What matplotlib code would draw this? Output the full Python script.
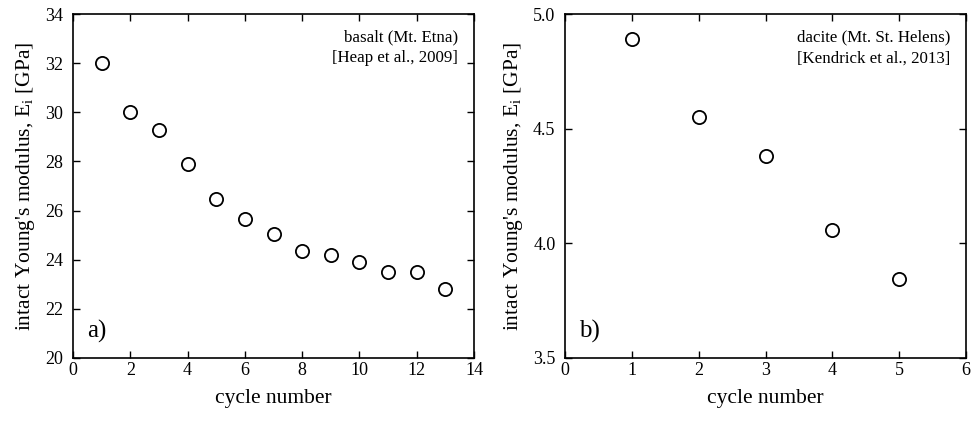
import matplotlib.pyplot as plt

# panel a) basalt, Mt. Etna
cycles_a = [1, 2, 3, 4, 5, 6, 7, 8, 9, 10, 11, 12, 13]
modulus_a = [32.0, 30.0, 29.28, 27.89, 26.49, 25.65, 25.05, 24.35, 24.19, 23.92, 23.48, 23.48, 22.82]

# panel b) dacite, Mt. St. Helens
cycles_b = [1, 2, 3, 4, 5]
modulus_b = [4.89, 4.551, 4.379, 4.058, 3.845]

plt.rcParams['font.family'] = ['Liberation Serif', 'DejaVu Serif']

fig = plt.figure(figsize=(9.71, 4.22), dpi=100)
ax1 = fig.add_axes([0.0752, 0.1517, 0.413, 0.815])
ax2 = fig.add_axes([0.582, 0.1517, 0.413, 0.815])

panels = [
    (ax1, cycles_a, modulus_a, (0, 14), range(0, 15, 2), (20, 34), range(20, 35, 2),
     "basalt (Mt. Etna)\n[Heap et al., 2009]", "a)", "%d"),
    (ax2, cycles_b, modulus_b, (0, 6), range(0, 7), (3.5, 5.0), [3.5, 4.0, 4.5, 5.0],
     "dacite (Mt. St. Helens)\n[Kendrick et al., 2013]", "b)", "%.1f"),
]

for ax, x, y, xlim, xticks, ylim, yticks, note, tag, yfmt in panels:
    ax.plot(x, y, 'o', ms=9.5, mfc='white', mec='black', mew=1.3, ls='none')
    ax.set_xlim(*xlim)
    ax.set_ylim(*ylim)
    ax.set_xticks(list(xticks))
    ax.set_yticks(list(yticks))
    ax.set_yticklabels([yfmt % v for v in yticks])
    ax.tick_params(direction='in', top=True, right=True, length=5, width=1,
                   labelsize=13)
    ax.tick_params(axis='x', pad=3)
    ax.tick_params(axis='y', pad=7)
    for s in ax.spines.values():
        s.set_linewidth(1.2)
    ax.set_xlabel("cycle number", fontsize=15.5, labelpad=7)
    ax.set_ylabel("intact Young's modulus, E$_\\mathregular{i}$ [GPa]", fontsize=15.5,
                  labelpad=6)
    ax.text(0.96, 0.955, note, transform=ax.transAxes, ha='right', va='top',
            fontsize=12.2, linespacing=1.4)
    ax.text(0.035, 0.045, tag, transform=ax.transAxes, ha='left', va='bottom',
            fontsize=18)

fig.savefig("out.png", dpi=100)
